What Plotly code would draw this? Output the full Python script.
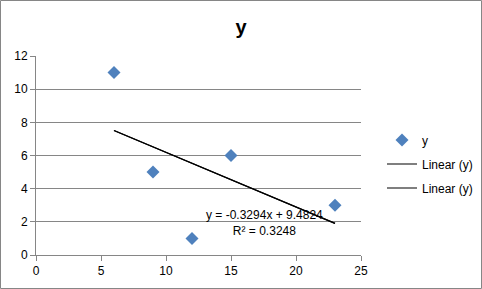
import numpy as np
import plotly.graph_objects as go

x_vals = [6, 9, 12, 15, 23]
y_vals = [11, 5, 1, 6, 3]
x_ticks = [0, 5, 10, 15, 20, 25]
y_ticks = [0, 2, 4, 6, 8, 10, 12]

slope, intercept = np.polyfit(x_vals, y_vals, 1)
yhat = np.array(y_vals) - (slope * np.array(x_vals) + intercept)
r2 = 1 - np.sum(yhat**2) / np.sum((np.array(y_vals) - np.mean(y_vals))**2)
tx = [min(x_vals), max(x_vals)]
ty = [slope * v + intercept for v in tx]

W, H = 482, 289
ml, mr, mt, mb = 36, 121, 56, 34
font = "Liberation Sans"

fig = go.Figure()
fig.add_trace(go.Scatter(x=x_vals, y=y_vals, mode="markers", name="y", legendgroup="a",
                         marker=dict(symbol="diamond", size=10, color="#4F81BD",
                                     line=dict(width=0))))
for i in range(2):
    fig.add_trace(go.Scatter(x=tx, y=ty, mode="lines", name="Linear (y)",
                             legendgroup=f"t{i}",
                             line=dict(color="black", width=1.2)))

eq = f"y = {slope:.4f}x + {intercept:.4f}<br>R² = {r2:.4f}"
fig.add_annotation(x=17.6, y=1.9, xref="x", yref="y", text=eq, showarrow=False,
                   font=dict(family=font, size=12, color="black"), align="center")

pw, ph = W - ml - mr, H - mt - mb
fig.add_shape(type="rect", xref="paper", yref="paper",
              x0=(0.5 - ml) / pw, x1=(W - 0.5 - ml) / pw,
              y0=-(H - 0.5 - mt - ph) / ph, y1=1 + (mt - 0.5) / ph,
              line=dict(color="#868686", width=1), layer="below")

fig.update_layout(
    width=W, height=H, margin=dict(l=ml, r=mr, t=mt, b=mb, autoexpand=False),
    paper_bgcolor="white", plot_bgcolor="white",
    title=dict(text="<b>y</b>", x=0.5, xanchor="center", y=1 - 27 / H, yanchor="middle",
               font=dict(family=font, size=20, color="black")),
    font=dict(family=font, size=12, color="black"),
    showlegend=True,
    legend=dict(x=382 / W, y=1 - 164 / H, xref="container", yref="container",
                xanchor="left", yanchor="middle",
                font=dict(family=font, size=12), tracegroupgap=5,
                bgcolor="rgba(0,0,0,0)", itemwidth=30),
    xaxis=dict(range=[0, 25], tickvals=x_ticks, showgrid=False, zeroline=False,
               showline=True, linecolor="#868686", linewidth=1,
               ticks="outside", ticklen=5, tickcolor="#868686", fixedrange=True),
    yaxis=dict(range=[0, 12], tickvals=y_ticks, showgrid=True, gridcolor="#868686",
               gridwidth=1, zeroline=False, showline=True, linecolor="#868686",
               linewidth=1, ticks="outside", ticklen=5, tickcolor="#868686",
               fixedrange=True),
)
fig.write_html("out.html")
